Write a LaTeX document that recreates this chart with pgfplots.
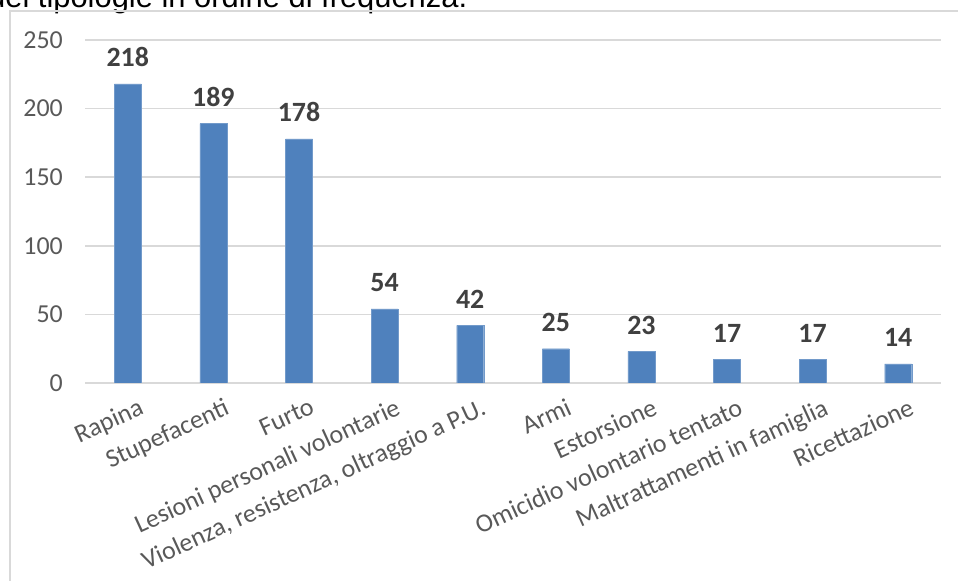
\documentclass[border=0pt]{standalone}
\usepackage{fontspec}
\setmainfont{Carlito}
\newfontfamily\arialfont{Liberation Sans}
\usepackage{pgfplots}
\pgfplotsset{compat=1.18}
\definecolor{barblue}{HTML}{4F81BD}
\definecolor{gridgray}{HTML}{D9D9D9}
\definecolor{ticktext}{HTML}{595959}
\definecolor{valtext}{HTML}{404040}

\begin{document}
\begin{tikzpicture}
\useasboundingbox (0,0) rectangle (958bp,581bp);
% caption of the page, cut off at the top
\node[anchor=base west, inner sep=0pt, font=\arialfont\fontsize{31}{36}\selectfont]
  at (-12bp,573bp) {dei tipologie in ordine di frequenza.};
\draw[gridgray, line width=2bp] (10bp,0) -- (10bp,570bp) -- (958bp,570bp);

\begin{axis}[
    at={(85bp,198bp)}, anchor=south west,
    scale only axis,
    width=856bp, height=343bp,
    xmin=-0.5, xmax=9.5,
    ymin=0, ymax=250,
    ytick={0,50,100,150,200,250},
    xtick=data,
    xticklabels={Rapina, Stupefacenti, Furto, Lesioni personali volontarie,
      {Violenza, resistenza, oltraggio a P.U.}, Armi, Estorsione,
      Omicidio volontario tentato, Maltrattamenti in famiglia, Ricettazione},
    axis line style={draw=none},
    major tick length=0pt,
    ymajorgrids=true,
    grid style={gridgray, line width=1.5bp},
    /pgf/number format/assume math mode=true,
    ticklabel style={font=\fontsize{26}{30}\selectfont, text=ticktext},
    yticklabel style={inner sep=0pt, xshift=-22bp},
    xticklabel style={rotate=24.6, anchor=north east, inner sep=0pt, yshift=-17bp, xshift=3bp},
    ybar,
    bar width=27bp,
    nodes near coords,
    nodes near coords style={font=\bfseries\fontsize{28}{32}\selectfont, text=valtext,
      inner sep=0pt, yshift=17bp, /pgf/number format/assume math mode=true},
]
\addplot[fill=barblue, draw=barblue!80!white] coordinates {
    (0,218) (1,189) (2,178) (3,54) (4,42) (5,25) (6,23) (7,17) (8,17) (9,14)
};
\end{axis}
\end{tikzpicture}
\end{document}
